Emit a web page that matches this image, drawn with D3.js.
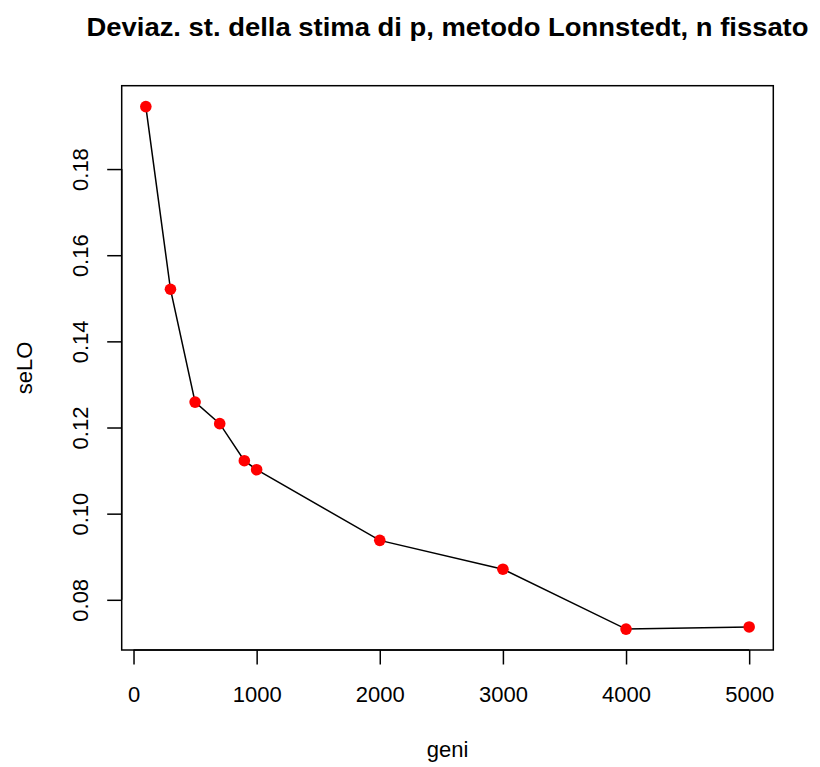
<!DOCTYPE html>
<html>
<head>
<meta charset="utf-8">
<script src="https://cdn.jsdelivr.net/npm/d3@7"></script>
<style>
  html, body { margin: 0; padding: 0; background: #fff; }
  svg { display: block; font-family: "Liberation Sans", Arial, Helvetica, sans-serif; }
</style>
</head>
<body>
<svg id="chart" width="820" height="767"></svg>
<script>
// Number of genes and standard deviation of the estimate of p
const geni = [100, 300, 500, 700, 900, 1000, 2000, 3000, 4000, 5000];
const seLO = [0.1945, 0.1521, 0.1259, 0.1209, 0.1123, 0.1102, 0.0938, 0.0871, 0.0732, 0.0737];
const xTicks = [0, 1000, 2000, 3000, 4000, 5000];
const yTicks = [0.08, 0.10, 0.12, 0.14, 0.16, 0.18];

const titleText = "Deviaz. st. della stima di p, metodo Lonnstedt, n fissato";
const xLabel = "geni";
const yLabel = "seLO";

// plotting region
const plot = { left: 121.7, right: 773.3, top: 85.7, bottom: 650 };

// axis limits padded by 4% on each side
function padded(values) {
  const [lo, hi] = d3.extent(values);
  const d = (hi - lo) * 0.04;
  return [lo - d, hi + d];
}

const x = d3.scaleLinear().domain(padded(geni)).range([plot.left, plot.right]);
const y = d3.scaleLinear().domain(padded(seLO)).range([plot.bottom, plot.top]);

const svg = d3.select("#chart");
const tickLen = 14.5;
const fontSize = 22;

// frame
svg.append("rect")
  .attr("x", plot.left).attr("y", plot.top)
  .attr("width", plot.right - plot.left).attr("height", plot.bottom - plot.top)
  .attr("fill", "none").attr("stroke", "#000").attr("stroke-width", 1.5);

// x axis
const xAxis = svg.append("g")
  .attr("transform", `translate(0,${plot.bottom})`)
  .call(d3.axisBottom(x).tickValues(xTicks).tickSize(tickLen).tickPadding(22).tickFormat(d3.format("d")));
xAxis.select(".domain")
  .attr("d", `M${x(xTicks[0])},0H${x(xTicks[xTicks.length - 1])}`)
  .attr("stroke-width", 1.5);
xAxis.selectAll(".tick line").attr("stroke-width", 1.5);
xAxis.selectAll(".tick text")
  .attr("font-size", fontSize).attr("font-family", "Liberation Sans, Arial, sans-serif")
  .attr("fill", "#000");

// y axis
const yAxis = svg.append("g")
  .attr("transform", `translate(${plot.left},0)`)
  .call(d3.axisLeft(y).tickValues(yTicks).tickSize(tickLen).tickFormat(d3.format(".2f")));
yAxis.select(".domain")
  .attr("d", `M0,${y(yTicks[0])}V${y(yTicks[yTicks.length - 1])}`)
  .attr("stroke-width", 1.5);
yAxis.selectAll(".tick line").attr("stroke-width", 1.5);
yAxis.selectAll(".tick text")
  .attr("font-size", fontSize).attr("font-family", "Liberation Sans, Arial, sans-serif")
  .attr("fill", "#000")
  .attr("x", null).attr("dy", null)
  .attr("text-anchor", "middle")
  .attr("transform", `translate(${88 - plot.left},0) rotate(-90)`);
svg.selectAll(".domain").attr("stroke", "#000");

// connecting line
const line = d3.line().x((d, i) => x(geni[i])).y(d => y(d));
svg.append("path")
  .datum(seLO)
  .attr("d", line)
  .attr("fill", "none").attr("stroke", "#000").attr("stroke-width", 1.5);

// points
svg.append("g").selectAll("circle")
  .data(seLO)
  .join("circle")
  .attr("cx", (d, i) => x(geni[i]))
  .attr("cy", d => y(d))
  .attr("r", 5.8)
  .attr("fill", "#ff0000");

// title
svg.append("text")
  .attr("x", (plot.left + plot.right) / 2)
  .attr("y", 36)
  .attr("text-anchor", "middle")
  .attr("font-size", 26.4)
  .attr("font-weight", "bold")
  .attr("textLength", 722)
  .attr("lengthAdjust", "spacingAndGlyphs")
  .text(titleText);

// axis labels
svg.append("text")
  .attr("x", (plot.left + plot.right) / 2)
  .attr("y", 757)
  .attr("text-anchor", "middle")
  .attr("font-size", fontSize)
  .text(xLabel);

svg.append("text")
  .attr("transform", `translate(32,${(plot.top + plot.bottom) / 2}) rotate(-90)`)
  .attr("text-anchor", "middle")
  .attr("font-size", fontSize)
  .text(yLabel);
</script>
</body>
</html>
